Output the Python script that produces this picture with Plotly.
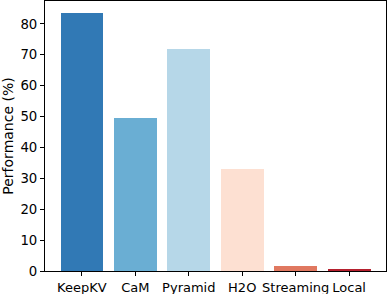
import plotly.graph_objects as go

categories = ["KeepKV", "CaM", "Pyramid", "H2O", "Streaming", "Local"]
performance = [83.5, 49.6, 71.9, 33.0, 1.6, 0.8]
colors = ["#3179b5", "#6aaed3", "#b6d7e8", "#fde0d2", "#e07860", "#b5202e"]
y_ticks = [0, 10, 20, 30, 40, 50, 60, 70, 80]

fig = go.Figure()
fig.add_trace(go.Bar(
    x=list(range(len(categories))),
    y=performance,
    width=0.8,
    marker=dict(color=colors, line=dict(width=0)),
))

fig.update_layout(
    width=388, height=294,
    margin=dict(l=45, r=2, t=1, b=23, autoexpand=False),
    plot_bgcolor="white", paper_bgcolor="white",
    font=dict(family="DejaVu Sans", size=13, color="black"),
    showlegend=False,
    bargap=0,
)
fig.update_xaxes(
    range=[-0.69, 5.69],
    tickmode="array",
    tickvals=list(range(len(categories))),
    ticktext=categories,
    ticks="outside", ticklen=4, tickwidth=1, tickcolor="black",
    showline=True, linecolor="black", linewidth=1, mirror=True,
    showgrid=False, zeroline=False, automargin=False,
    tickfont=dict(size=13),
)
fig.update_yaxes(
    range=[0, 87.4],
    tickmode="array",
    tickvals=y_ticks,
    ticks="outside", ticklen=4, tickwidth=1, tickcolor="black",
    showline=True, linecolor="black", linewidth=1, mirror=True,
    showgrid=False, zeroline=False, automargin=False,
    title=dict(text="Performance (%)", font=dict(size=14), standoff=4),
    tickfont=dict(size=13.3),
)

fig.write_html(
    "out.html",
    config={"displayModeBar": False},
    post_script="document.body.style.margin='0';document.body.style.padding='0';",
)
